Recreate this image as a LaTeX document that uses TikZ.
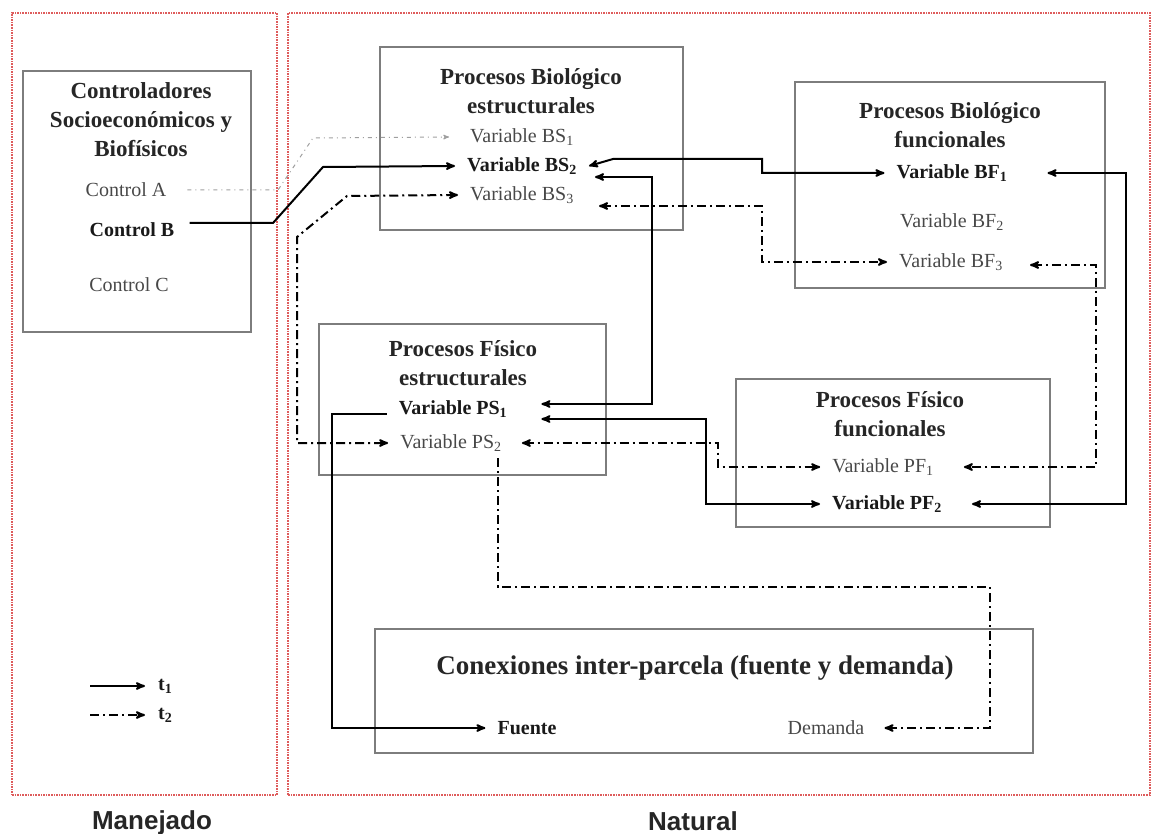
\documentclass[tikz,border=0pt]{standalone}
\usepackage{fontspec}
\setmainfont{Liberation Serif}
\newfontfamily\zonefont{Liberation Sans}
\usepackage{tikz}
\usetikzlibrary{positioning}
\usetikzlibrary{arrows}

\definecolor{zonered}{RGB}{222,92,92}
\definecolor{boxgray}{RGB}{125,125,125}
\definecolor{vartext}{RGB}{72,72,72}

\begin{document}
\begin{tikzpicture}[x=1pt,y=-1pt,>=stealth',node distance=29pt,
	zone/.style={draw=zonered,line width=2.2pt,dash pattern=on 1.6pt off 1pt,inner sep=0pt},
	zone label/.style={font=\zonefont\bfseries\fontsize{26}{30}\selectfont,text=black!85},
	proc box/.style={draw=boxgray,line width=1.1pt,inner sep=0pt},
	box title/.style={font=\fontsize{23}{29}\selectfont\bfseries,align=center,text=black!85},
	var/.style={font=\fontsize{20}{24}\selectfont,text=vartext,inner xsep=12pt},
	var main/.style={var,font=\fontsize{20}{24}\selectfont\bfseries,text=black!90},
	t one/.style={line width=2pt},
	t two/.style={line width=2pt,dash pattern=on 9pt off 4pt on 2pt off 4pt},
	ctrl link/.style={line width=1pt,gray!75,dash pattern=on 4pt off 4pt on 1pt off 4pt}]

	\useasboundingbox (0,0) rectangle (1153,834);

	\node[zone,minimum width=265pt,minimum height=782pt] (manejado) at (144.5,404) {};
	\node[zone,minimum width=862pt,minimum height=782pt] (natural) at (719,404) {};
	\node[zone label] (manlabel) at (152,823) {Manejado};
	\node[zone label] (natlabel) at (693,821) {Natural};

	\node[proc box,minimum width=228pt,minimum height=261pt] (ctrlbox) at (137,201.5) {};
	\node[proc box,minimum width=303pt,minimum height=183pt] (bsbox) at (531.5,138.5) {};
	\node[proc box,minimum width=310pt,minimum height=206pt] (bfbox) at (950,185) {};
	\node[proc box,minimum width=287pt,minimum height=151pt] (psbox) at (462.5,399.5) {};
	\node[proc box,minimum width=314pt,minimum height=148pt] (pfbox) at (893,453) {};
	\node[proc box,minimum width=658pt,minimum height=124pt] (fcbox) at (704,691) {};

	\node[box title] (ctrltitle) at (141,120) {Controladores\\Socioeconómicos y\\Biofísicos};
	\node[box title] (bstitle) at (531,91) {Procesos Biológico\\estructurales};
	\node[box title] (bftitle) at (950,125) {Procesos Biológico\\funcionales};
	\node[box title] (pstitle) at (463,363) {Procesos Físico\\estructurales};
	\node[box title] (pftitle) at (890,414) {Procesos Físico\\funcionales};
	\node[box title,font=\fontsize{27}{32}\selectfont\bfseries] (fctitle) at (695,668) {Conexiones inter-parcela (fuente y demanda)};

	\node[var] (ctrlA) at (126,190) {Control A};
	\node[var main] (ctrlB) at (132,230) {Control B};
	\node[var] (ctrlC) at (129,285) {Control C};

	\node[var] (bs1) at (522,137) {Variable BS\textsubscript{1}};
	\node[var main] (bs2) [below of=bs1] {Variable BS\textsubscript{2}};
	\node[var] (bs3) [below of=bs2] {Variable BS\textsubscript{3}};

	\node[var main] (bf1) at (952,173) {Variable BF\textsubscript{1}};
	\node[var] (bf2) at (952,222) {Variable BF\textsubscript{2}};
	\node[var] (bf3) at (951,262) {Variable BF\textsubscript{3}};

	\node[var main] (ps1) at (453,409) {Variable PS\textsubscript{1}};
	\node[var] (ps2) at (451,443) {Variable PS\textsubscript{2}};

	\node[var] (pf1) at (883,467) {Variable PF\textsubscript{1}};
	\node[var main] (pf2) at (887,504) {Variable PF\textsubscript{2}};

	\node[var main] (fuente) at (527,728) {Fuente};
	\node[var] (demanda) at (826,728) {Demanda};

	\coordinate (lgone) at (90,686);
	\coordinate (lgtwo) at (90,715);
	\node[var main,anchor=west,inner xsep=0pt] (tone) at (158,686) {t\textsubscript{1}};
	\node[var main,anchor=west,inner xsep=0pt] (ttwo) at (158,715) {t\textsubscript{2}};

	\path
	(lgone) edge [t one,->] ([xshift=-13pt]tone.west)
	(lgtwo) edge [t two,->] ([xshift=-13pt]ttwo.west);

	\draw[ctrl link,->] ([xshift=9pt]ctrlA.east) -- (278,190) -- (313,138) -- ([xshift=-9pt]bs1.west);
	\draw[t one,->] ([xshift=3pt,yshift=7pt]ctrlB.east) -- (273,223) -- (323,167) -- (bs2.west);
	\draw[t two,<->] (bs3.west) -- (347,196) -- (297,237) -- (297,443) -- (ps2.west);

	\draw[t one,<->] (bs2.east) -- (613,159) -- (762,159) |- (bf1.west);
	\draw[t one,<->] ([xshift=6pt,yshift=-11pt]bs2.east) -| (652,404) -- ([xshift=22pt,yshift=5pt]ps1.east);
	\draw[t two,<->] ([xshift=13pt,yshift=-11pt]bs3.east) -| (762,262) -- (bf3.west);

	\draw[t two,<->] ([xshift=15pt,yshift=-3pt]bf3.east) -| (1096,467) -- ([xshift=18pt]pf1.east);
	\draw[t one,<->] ([xshift=28pt]bf1.east) -| (1126,504) -- ([xshift=18pt]pf2.east);

	\draw[t one,<->] ([xshift=22pt,yshift=-10pt]ps1.east) -| (706,504) -- (pf2.west);
	\draw[t two,<->] ([xshift=8pt]ps2.east) -| (718,467) -- (pf1.west);

	\draw[t one,->] ([yshift=-5pt]ps1.west) -| (332,728) -- (fuente.west);
	\draw[t two,->] ([xshift=47pt,yshift=-3pt]ps2.south) |- (990,587) |- ([xshift=8pt]demanda.east);
\end{tikzpicture}
\end{document}
